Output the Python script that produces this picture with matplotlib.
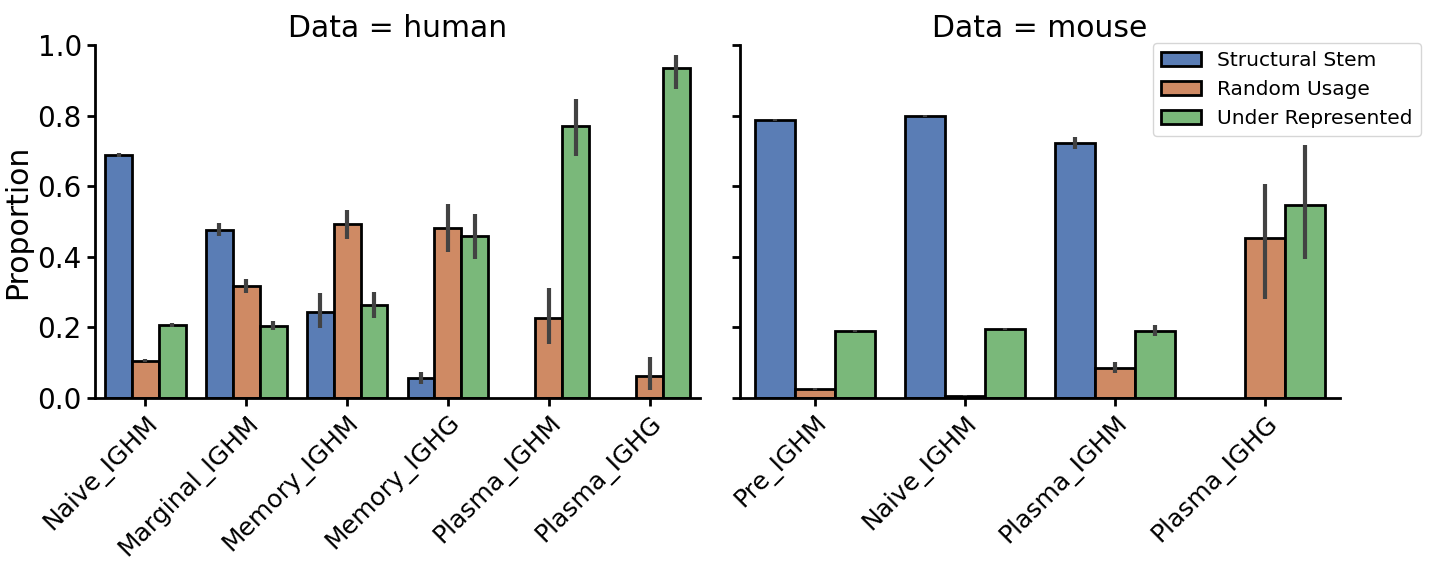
import matplotlib
matplotlib.use("Agg")
import matplotlib.pyplot as plt
import numpy as np
from matplotlib.patches import Patch

# ---- data ----
hue_labels = ["Structural Stem", "Random Usage", "Under Represented"]
colors = ["#5a7db5", "#cf8a64", "#7ab87a"]

human_cats = ["Naive_IGHM", "Marginal_IGHM", "Memory_IGHM", "Memory_IGHG", "Plasma_IGHM", "Plasma_IGHG"]
human_structural = [0.688, 0.477, 0.244, 0.058, np.nan, np.nan]
human_random = [0.106, 0.317, 0.493, 0.481, 0.228, 0.063]
human_under = [0.206, 0.205, 0.264, 0.459, 0.771, 0.934]
human_structural_lo = [0.683, 0.459, 0.199, 0.040, np.nan, np.nan]
human_structural_hi = [0.693, 0.495, 0.297, 0.075, np.nan, np.nan]
human_random_lo = [0.101, 0.297, 0.450, 0.413, 0.154, 0.023]
human_random_hi = [0.111, 0.337, 0.532, 0.549, 0.313, 0.115]
human_under_lo = [0.201, 0.192, 0.228, 0.395, 0.686, 0.876]
human_under_hi = [0.212, 0.217, 0.299, 0.521, 0.846, 0.972]

mouse_cats = ["Pre_IGHM", "Naive_IGHM", "Plasma_IGHM", "Plasma_IGHG"]
mouse_structural = [0.788, 0.799, 0.722, np.nan]
mouse_random = [0.025, 0.007, 0.084, 0.452]
mouse_under = [0.190, 0.195, 0.191, 0.547]
mouse_structural_lo = [0.786, 0.797, 0.705, np.nan]
mouse_structural_hi = [0.790, 0.801, 0.738, np.nan]
mouse_random_lo = [0.022, 0.006, 0.070, 0.281]
mouse_random_hi = [0.028, 0.008, 0.101, 0.605]
mouse_under_lo = [0.188, 0.193, 0.177, 0.393]
mouse_under_hi = [0.192, 0.197, 0.206, 0.717]

yticks = [0.0, 0.2, 0.4, 0.6, 0.8, 1.0]

fig = plt.figure(figsize=(14.32, 5.63), dpi=100)
ax1 = fig.add_axes([95/1432, 1-398/563, 605/1432, 353/563])
ax2 = fig.add_axes([740/1432, 1-398/563, 600/1432, 353/563], sharey=ax1)

def draw(ax, cats, vals, los, his, title):
    n = len(cats)
    x = np.arange(n)
    w = 0.8 / 3
    for j in range(3):
        pos = x + (j - 1) * w
        v = np.array(vals[j], dtype=float)
        lo = np.array(los[j], dtype=float)
        hi = np.array(his[j], dtype=float)
        m = ~np.isnan(v)
        ax.bar(pos[m], v[m], width=w, color=colors[j], edgecolor="black",
               linewidth=2, zorder=2)
        ax.vlines(pos[m], lo[m], hi[m], color="#424242", linewidth=3, zorder=3)
    ax.set_xlim(-0.5, n - 0.5)
    ax.set_xticks(x)
    ax.set_xticklabels(cats, rotation=45, ha="right", rotation_mode="anchor", fontsize=18)
    ax.set_title(title, fontsize=21.5, pad=6)
    for s in ["top", "right"]:
        ax.spines[s].set_visible(False)
    for s in ["left", "bottom"]:
        ax.spines[s].set_linewidth(2)
    ax.tick_params(width=2, length=6)
    ax.tick_params(axis="x", pad=3)
    ax.tick_params(axis="y", labelsize=20)

draw(ax1, human_cats,
     [human_structural, human_random, human_under],
     [human_structural_lo, human_random_lo, human_under_lo],
     [human_structural_hi, human_random_hi, human_under_hi],
     "Data = human")
draw(ax2, mouse_cats,
     [mouse_structural, mouse_random, mouse_under],
     [mouse_structural_lo, mouse_random_lo, mouse_under_lo],
     [mouse_structural_hi, mouse_random_hi, mouse_under_hi],
     "Data = mouse")

ax1.set_ylim(0, 1.0)
ax1.set_yticks(yticks)
ax1.set_yticklabels([f"{t:.1f}" for t in yticks])
ax1.set_ylabel("Proportion", fontsize=21.5, labelpad=4)
plt.setp(ax2.get_yticklabels(), visible=False)

handles = [Patch(facecolor=c, edgecolor="black", linewidth=2, label=l) for c, l in zip(colors, hue_labels)]
fig.legend(handles=handles, loc="upper right", bbox_to_anchor=(1421/1432, 1-43/563),
           fontsize=14.5, frameon=True, handlelength=2.0, borderaxespad=0.0)

fig.savefig("out.png", dpi=100)
